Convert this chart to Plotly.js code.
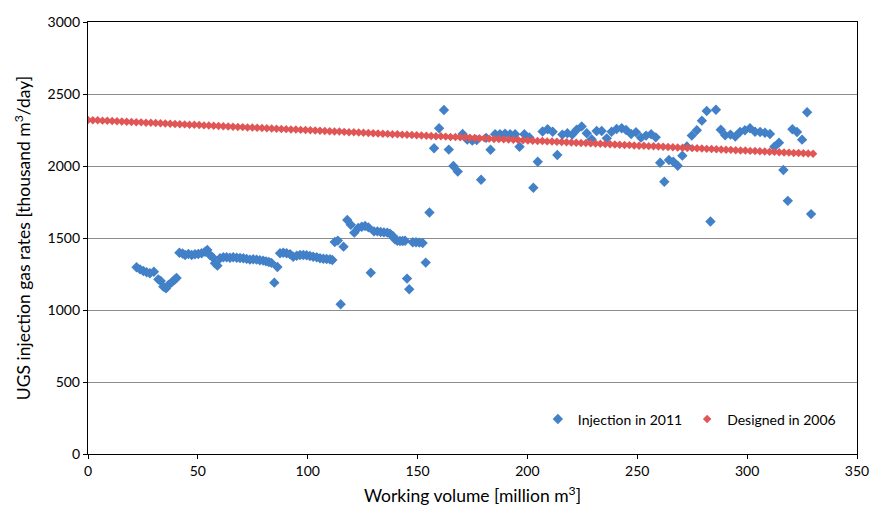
<!DOCTYPE html>
<html><head><meta charset="utf-8">
<script src="https://cdn.plot.ly/plotly-3.0.1.min.js"></script>
<style>body{margin:0;background:#fff}#chart{width:871px;height:506px}</style>
</head><body><div id="chart"></div>
<script>
const injectionX = [22.1,23.7,25.2,26.7,28.2,30.0,32.0,33.1,34.3,35.5,36.6,38.1,39.4,40.3,41.6,43.0,44.2,45.7,47.2,48.7,50.2,51.7,53.3,54.3,55.5,56.7,57.8,58.9,60.1,61.6,63.1,64.6,66.1,67.7,69.2,70.7,72.2,73.7,75.2,76.7,78.2,79.7,81.0,82.3,83.5,84.8,86.2,87.4,88.9,90.4,92.0,93.4,95.0,96.5,98.0,99.5,101.0,102.5,104.1,105.6,107.1,108.6,110.1,111.2,112.3,113.7,115.0,116.3,118.0,119.6,121.2,123.0,124.6,126.1,127.6,128.7,130.2,131.7,133.2,134.7,136.2,137.5,138.7,139.7,140.8,142.0,143.2,144.3,145.2,146.2,147.8,149.3,150.8,152.3,153.7,155.4,157.5,159.8,162.0,164.2,166.3,168.3,170.5,172.6,174.9,176.9,178.9,181.2,183.2,185.3,187.5,189.8,192.1,194.4,196.4,198.6,200.9,202.7,204.7,206.9,209.2,211.5,213.6,215.9,218.2,220.4,222.4,224.7,227.0,229.2,231.5,233.8,236.1,238.3,240.6,242.9,244.9,247.2,249.4,251.7,254.0,256.3,258.4,260.4,262.3,264.4,266.4,268.4,270.5,272.6,274.8,277.1,279.4,281.6,283.3,285.8,288.0,290.0,292.4,294.6,296.8,299.0,301.3,303.6,305.9,308.1,310.4,312.4,314.5,316.5,318.5,320.6,322.7,325.0,327.3,329.1];
const injectionY = [1297,1282,1271,1262,1255,1266,1213,1201,1162,1150,1174,1192,1210,1222,1398,1392,1382,1389,1382,1387,1389,1394,1405,1417,1382,1366,1324,1308,1359,1366,1366,1363,1366,1363,1361,1359,1355,1350,1352,1350,1345,1343,1338,1333,1327,1190,1299,1394,1398,1394,1387,1370,1377,1382,1382,1380,1375,1370,1366,1359,1356,1354,1352,1347,1472,1482,1040,1440,1625,1592,1537,1570,1578,1583,1574,1259,1546,1546,1542,1539,1537,1530,1514,1491,1481,1479,1479,1481,1218,1144,1470,1470,1468,1465,1329,1677,2123,2262,2389,2114,2000,1961,2222,2183,2176,2181,1905,2195,2113,2220,2220,2225,2220,2220,2134,2220,2198,1849,2030,2240,2255,2238,2076,2218,2227,2218,2252,2275,2227,2186,2243,2243,2192,2238,2257,2262,2250,2222,2234,2197,2211,2220,2199,2023,1891,2042,2030,2002,2072,2135,2211,2248,2315,2382,1615,2391,2252,2213,2218,2204,2237,2248,2262,2238,2236,2231,2222,2134,2162,1972,1758,2255,2236,2183,2373,1666];

const designedX = [0,2.2,4.4,6.6,8.8,11,13.2,15.4,17.6,19.8,22,24.2,26.4,28.6,30.8,33,35.2,37.4,39.6,41.8,44,46.2,48.4,50.6,52.8,55,57.2,59.4,61.6,63.8,66,68.2,70.4,72.6,74.8,77,79.2,81.4,83.6,85.8,88,90.2,92.4,94.6,96.8,99,101.2,103.4,105.6,107.8,110,112.2,114.4,116.6,118.8,121,123.2,125.4,127.6,129.8,132,134.2,136.4,138.6,140.8,143,145.2,147.4,149.6,151.8,154,156.2,158.4,160.6,162.8,165,167.2,169.4,171.6,173.8,176,178.2,180.4,182.6,184.8,187,189.2,191.4,193.6,195.8,198,200.2,202.4,204.6,206.8,209,211.2,213.4,215.6,217.8,220,222.2,224.4,226.6,228.8,231,233.2,235.4,237.6,239.8,242,244.2,246.4,248.6,250.8,253,255.2,257.4,259.6,261.8,264,266.2,268.4,270.6,272.8,275,277.2,279.4,281.6,283.8,286,288.2,290.4,292.6,294.8,297,299.2,301.4,303.6,305.8,308,310.2,312.4,314.6,316.8,319,321.2,323.4,325.6,327.8,330];
const designedY = [2320,2318,2317,2315,2314,2312,2311,2309,2307,2306,2304,2303,2301,2300,2298,2297,2295,2293,2292,2290,2289,2287,2286,2284,2282,2281,2279,2278,2276,2275,2273,2271,2270,2268,2267,2265,2264,2262,2260,2259,2257,2256,2254,2253,2251,2250,2248,2246,2245,2243,2242,2240,2239,2237,2235,2234,2232,2231,2229,2228,2226,2224,2223,2221,2220,2218,2217,2215,2213,2212,2210,2209,2207,2206,2204,2202,2201,2199,2198,2196,2195,2193,2192,2190,2188,2187,2185,2184,2182,2181,2179,2177,2176,2174,2173,2171,2170,2168,2166,2165,2163,2162,2160,2159,2157,2156,2154,2152,2151,2149,2148,2146,2145,2143,2141,2140,2138,2137,2135,2134,2132,2130,2129,2127,2126,2124,2123,2121,2119,2118,2116,2115,2113,2112,2110,2108,2107,2105,2104,2102,2101,2099,2098,2096,2094,2093,2091,2090,2088,2087,2085];

const seriesNames = ['Injection in 2011', 'Designed in 2006'];
const xTicks = [0,50,100,150,200,250,300,350];
const yTicks = [0,500,1000,1500,2000,2500,3000];

const FONT = 'Lato, "Open Sans", sans-serif';
const traces = [
  {x: injectionX, y: injectionY, name: seriesNames[0], type: 'scatter', mode: 'markers',
   marker: {symbol: 'diamond', size: 8, color: '#4280C8'}},
  {x: designedX, y: designedY, name: seriesNames[1], type: 'scatter', mode: 'markers',
   marker: {symbol: 'diamond', size: 6.5, color: '#E05656'}}
];
const layout = {
  width: 871, height: 506,
  margin: {l: 88, r: 14, t: 22, b: 52},
  paper_bgcolor: '#fff', plot_bgcolor: '#fff',
  font: {family: FONT, size: 14, color: '#000'},
  showlegend: true,
  legend: {orientation: 'h', x: 0.585, y: 0.08, xanchor: 'left', yanchor: 'middle',
           bgcolor: 'rgba(0,0,0,0)', font: {family: FONT, size: 14}, itemwidth: 30, tracegroupgap: 0},
  xaxis: {range: [0, 350], tickvals: xTicks, ticktext: xTicks.map(String), showgrid: false, zeroline: false,
          showline: true, linecolor: '#000', linewidth: 1.2, mirror: true,
          ticks: 'outside', ticklen: 4, tickcolor: '#000',
          tickfont: {family: FONT, size: 14},
          title: {text: 'Working volume [million m<sup>3</sup>]', font: {family: FONT, size: 17.5}, standoff: 14}},
  yaxis: {range: [0, 3000], tickvals: yTicks, ticktext: yTicks.map(String), showgrid: true, gridcolor: '#8c8c8c', gridwidth: 1,
          zeroline: false, showline: true, linecolor: '#000', linewidth: 1.2, mirror: true,
          ticks: 'outside', ticklen: 4, tickcolor: '#000',
          tickfont: {family: FONT, size: 14},
          title: {text: 'UGS injection gas rates [thousand m<sup>3</sup>/day]', font: {family: FONT, size: 17.5}, standoff: 12}}
};
Plotly.newPlot('chart', traces, layout, {displayModeBar: false, staticPlot: true});
</script>
</body></html>
